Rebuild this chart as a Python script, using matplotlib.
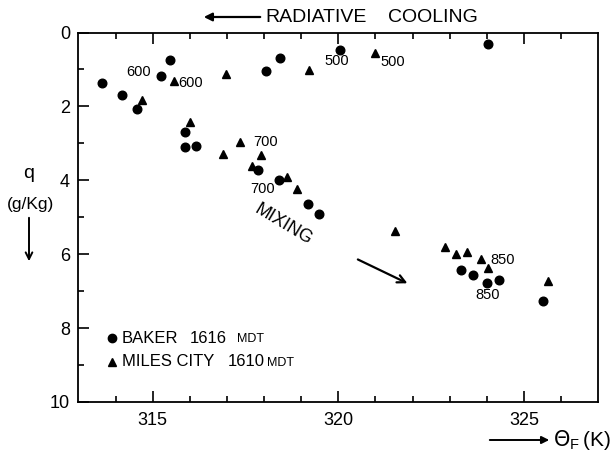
import numpy as np
import matplotlib
matplotlib.use('Agg')
import matplotlib.pyplot as plt

plt.rcParams['font.family'] = ['Liberation Sans', 'DejaVu Sans']

# Baker 1616 MDT (circles)
baker_theta = [313.63, 314.17, 314.57, 315.22, 315.47, 318.04, 318.44, 320.05, 324.02,
               315.88, 315.88, 316.18, 317.85, 318.41, 319.18, 319.48,
               323.30, 323.62, 324.00, 324.34, 325.52]
baker_q = [1.36, 1.69, 2.08, 1.18, 0.74, 1.03, 0.70, 0.47, 0.32,
           2.68, 3.09, 3.06, 3.72, 3.99, 4.64, 4.92,
           6.43, 6.56, 6.79, 6.70, 7.27]

# Miles City 1610 MDT (triangles)
miles_theta = [314.70, 315.57, 316.98, 319.21, 321.00, 316.01, 316.90, 317.35, 317.93,
               317.68, 318.63, 318.90, 321.53, 322.87, 323.17, 323.46, 323.84, 324.03, 325.66]
miles_q = [1.83, 1.31, 1.12, 1.01, 0.56, 2.41, 3.30, 2.97, 3.32,
           3.60, 3.92, 4.24, 5.36, 5.80, 6.00, 5.93, 6.14, 6.37, 6.73]

# pressure labels (mb) and where they sit
p_labels = ['600', '600', '500', '500', '700', '700', '850', '850']
p_x = [314.63, 316.02, 319.96, 321.47, 318.03, 317.97, 324.43, 324.03]
p_y = [1.07, 1.37, 0.77, 0.80, 2.96, 4.24, 6.16, 7.10]

fig = plt.figure(figsize=(6.11, 4.61), dpi=100)
ax = fig.add_axes([0.1283, 0.128, 0.8507, 0.8015])

ax.plot(baker_theta, baker_q, 'o', color='black', ms=6.2, mec='black')
ax.plot(miles_theta, miles_q, '^', color='black', ms=5.8, mec='black')

for lab, x, y in zip(p_labels, p_x, p_y):
    ax.text(x, y, lab, fontsize=10.5, ha='center', va='center')

ax.set_xlim(313, 327)
ax.set_ylim(10, 0)
ax.set_xticks([315, 320, 325])
ax.set_xticks(np.arange(314, 327, 1), minor=True)
ax.set_yticks([0, 2, 4, 6, 8, 10])
ax.set_yticks([1, 3, 5, 7, 9], minor=True)
ax.tick_params(which='both', direction='in', top=True, right=False, width=1.2,
               labelsize=13)
ax.tick_params(which='major', length=8)
ax.tick_params(which='minor', length=4)
ax.tick_params(axis='x', which='major', pad=7)
ax.tick_params(axis='y', which='major', pad=6)
for s in ax.spines.values():
    s.set_linewidth(1.3)

# annotations
ax.text(0.394, 0.479, 'MIXING', transform=ax.transAxes, fontsize=13,
        rotation=-31, ha='center', va='center')
ax.annotate('', xy=(321.93, 6.82), xytext=(320.46, 6.11),
            arrowprops=dict(arrowstyle='->', color='black', lw=1.6,
                            mutation_scale=14))

# legend drawn by hand
ax.plot([0.064], [0.173], 'o', color='black', ms=6, transform=ax.transAxes, clip_on=False)
ax.plot([0.064], [0.109], '^', color='black', ms=5.5, transform=ax.transAxes, clip_on=False)
ax.text(0.083, 0.173, 'BAKER', transform=ax.transAxes, fontsize=12, va='center')
ax.text(0.215, 0.173, '1616', transform=ax.transAxes, fontsize=12, va='center')
ax.text(0.305, 0.170, 'MDT', transform=ax.transAxes, fontsize=9, va='center')
ax.text(0.083, 0.109, 'MILES CITY', transform=ax.transAxes, fontsize=12, va='center')
ax.text(0.288, 0.109, '1610', transform=ax.transAxes, fontsize=12, va='center')
ax.text(0.362, 0.106, 'MDT', transform=ax.transAxes, fontsize=9, va='center')

# top label
fig.text(265 / 611, 1 - 17 / 461, 'RADIATIVE', fontsize=14, va='center')
fig.text(388 / 611, 1 - 17 / 461, 'COOLING', fontsize=14, va='center')
fig.add_artist(matplotlib.patches.FancyArrowPatch(
    (263 / 611, 1 - 17 / 461), (201 / 611, 1 - 17 / 461), transform=fig.transFigure,
    arrowstyle='-|>', mutation_scale=12, color='black', lw=1.6))

# y label
fig.text(29 / 611, 1 - 173 / 461, 'q', fontsize=14, ha='center', va='center')
fig.text(31 / 611, 1 - 204 / 461, '(g/Kg)', fontsize=12.5, ha='center', va='center')
fig.add_artist(matplotlib.patches.FancyArrowPatch(
    (29 / 611, 1 - 215 / 461), (29 / 611, 1 - 264 / 461), transform=fig.transFigure,
    arrowstyle='->', mutation_scale=12, color='black', lw=1.4))

# x label
fig.add_artist(matplotlib.patches.FancyArrowPatch(
    (487 / 611, 1 - 440 / 461), (552 / 611, 1 - 440 / 461), transform=fig.transFigure,
    arrowstyle='-|>', mutation_scale=11, color='black', lw=1.4))
fig.text(553 / 611, 1 - 440 / 461, r'$\Theta_{\mathregular{F}}\,\mathregular{(K)}$',
         fontsize=15, va='center')

fig.savefig('out.png', dpi=100)
